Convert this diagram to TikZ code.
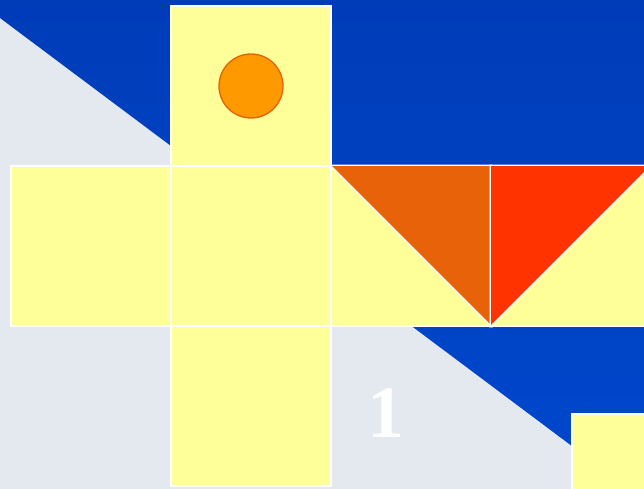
\documentclass[tikz,border=0pt]{standalone}
\usepackage{fontspec}
\setmainfont{Liberation Serif}
\usetikzlibrary{positioning}
\definecolor{paper}{HTML}{E4E8EF}
\definecolor{sky}{HTML}{003CB8}
\definecolor{skylow}{HTML}{0048CE}
\definecolor{face}{HTML}{FFFF99}
\definecolor{dot}{HTML}{FF9900}
\definecolor{dotrim}{HTML}{E2620C}
\definecolor{rust}{HTML}{E8620A}
\definecolor{flame}{HTML}{FF3300}
\tikzset{
  sq/.style={rectangle,draw=white,line width=1.4pt,fill=face,minimum size=160pt,inner sep=0pt},
  tri/.style={draw=white,line width=1.2pt},
  num/.style={text=white,font=\bfseries\fontsize{74}{74}\selectfont,inner sep=0pt},
}

\begin{document}
\begin{tikzpicture}[x=1pt,y=-1pt]
  \useasboundingbox (0,0) rectangle (644,489);
  \clip (0,0) rectangle (644,489);
  % background
  \fill[paper] (0,0) rectangle (644,489);
  \shade[top color=sky,bottom color=skylow] (0,0) -- (644,0) -- (644,500) -- (0,18) -- cycle;
  % net
  \node[sq] (top) at (251,86) {};
  \node[sq] (left) at (91,246) {};
  \node[sq] (mid) at (251,246) {};
  \node[sq] (right) at (411,246) {};
  \node[sq] (back) at (571,246) {};
  \node[sq] (bot) at (251,406) {};
  \node[sq] (corner) at (652,494) {};
  % marks
  \node[circle,draw=dotrim,line width=1.3pt,fill=dot,minimum size=64pt,inner sep=0pt] (sun) at (top.center) {};
  \filldraw[tri,fill=rust] (right.north west) -- (right.north east) -- (right.south east) -- cycle;
  \filldraw[tri,fill=flame] (back.north west) -- (back.north east) -- (back.south west) -- cycle;
  \node[num] (one) at (386,413) {1};
\end{tikzpicture}
\end{document}
